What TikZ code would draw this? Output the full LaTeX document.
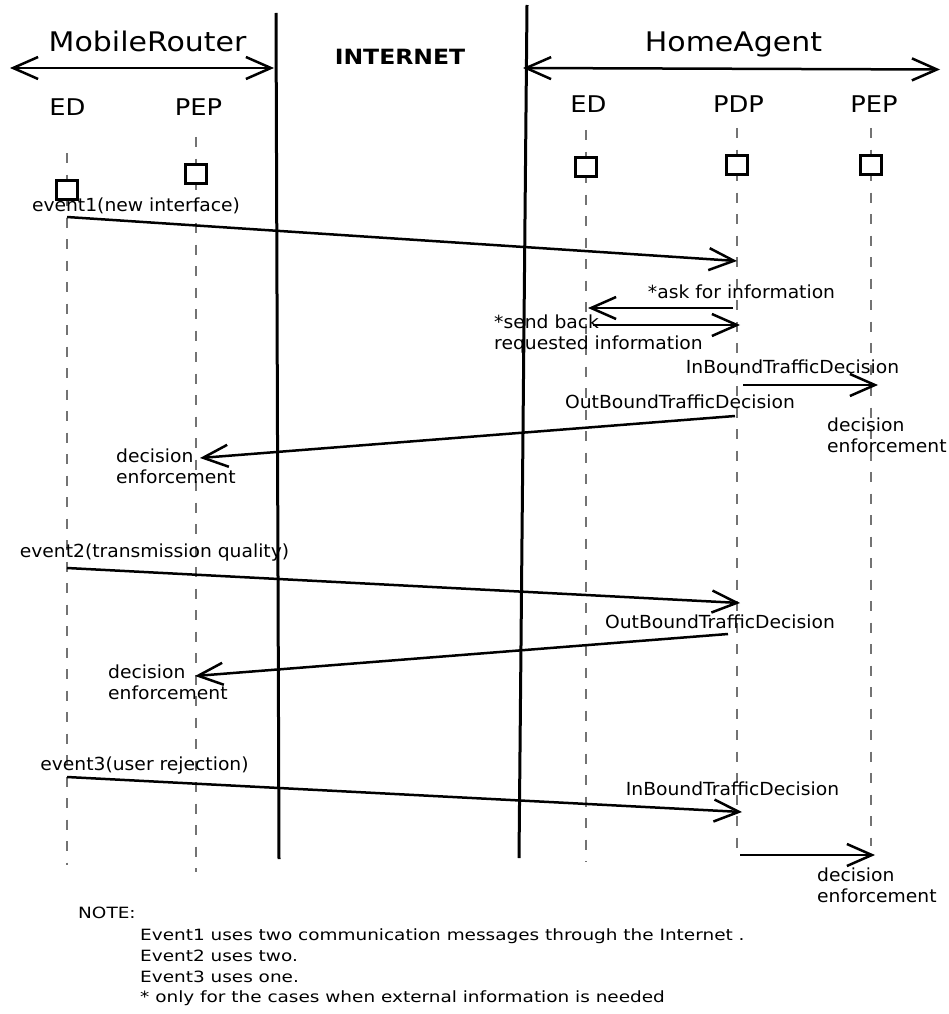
\documentclass[tikz,border=0pt]{standalone}
\usepackage{fontspec}
\setmainfont{DejaVu Sans}
\newfontfamily\titlefont[FakeStretch=1.11]{DejaVu Sans}
\newfontfamily\headfont[FakeStretch=1.12]{DejaVu Sans}
\newfontfamily\netfont[FakeStretch=1.12]{DejaVu Sans}
\newfontfamily\labelfont[FakeStretch=1.04]{DejaVu Sans}
\newfontfamily\notefont[FakeStretch=1.19]{DejaVu Sans}
\usetikzlibrary{arrows.meta}
\newcommand{\twolines}[2]{\begin{tabular}[t]{@{}l@{}}#1\\#2\end{tabular}}
\begin{document}
\begin{tikzpicture}[x=1pt,y=-1pt,
  barb/.tip={Straight Barb[length=25pt,width=22pt]},
  life/.style={draw=black!55, line width=2.6pt, dash pattern=on 10pt off 11.5pt},
  wall/.style={line width=3pt},
  msg/.style={line width=2.5pt, -barb},
  span/.style={line width=2.5pt, barb-barb},
  act/.style={draw, line width=2.5pt, fill=white, minimum width=21pt, minimum height=19pt, inner sep=0pt},
  title/.style={inner sep=0pt, anchor=base, font=\titlefont\fontsize{27}{31}\selectfont},
  head/.style={inner sep=0pt, anchor=base, font=\headfont\fontsize{23}{27}\selectfont},
  lbl/.style={inner sep=0pt, anchor=base, font=\labelfont\fontsize{18}{21.5}\selectfont},
  lblw/.style={lbl, anchor=base west},
  note/.style={inner sep=0pt, anchor=base west, font=\notefont\fontsize{15.5}{21}\selectfont}]
\useasboundingbox (0,0) rectangle (949,1014);

% domain titles and their extent arrows
\node[title] (mrtitle) at (147.5,52) {MobileRouter};
\node[title] (hatitle) at (733.5,52) {HomeAgent};
\node[inner sep=0pt, anchor=base, font=\netfont\bfseries\fontsize{21}{25}\selectfont] (net) at (400,65) {INTERNET};
\coordinate (mrL) at (10,68);
\coordinate (mrR) at (274,68);
\coordinate (haL) at (523,68);
\coordinate (haR) at (940,69.5);
\draw[span] (mrL) -- (mrR);
\draw[span] (haL) -- (haR);

% borders of the Internet
\coordinate (w1t) at (276,13);
\coordinate (w1b) at (279,859);
\coordinate (w2t) at (527,5);
\coordinate (w2b) at (519,858);
\draw[wall] (w1t) -- (w1b);
\draw[wall] (w2t) -- (w2b);

% entity names
\node[head] (hED1)  at (67.5,116) {ED};
\node[head] (hPEP1) at (198.5,116) {PEP};
\node[head] (hED2)  at (588.5,113) {ED};
\node[head] (hPDP)  at (738.5,113) {PDP};
\node[head] (hPEP2) at (874,113) {PEP};

% lifelines
\coordinate (l1t) at (67,153);  \coordinate (l1b) at (67,865);
\coordinate (l2t) at (196,137); \coordinate (l2b) at (196,872);
\coordinate (l3t) at (586,130); \coordinate (l3b) at (586,862);
\coordinate (l4t) at (737,128); \coordinate (l4b) at (737,858);
\coordinate (l5t) at (871,128); \coordinate (l5b) at (871,846);
\draw[life] (l1t) -- (l1b);
\draw[life] (l2t) -- (l2b);
\draw[life] (l3t) -- (l3b);
\draw[life] (l4t) -- (l4b);
\draw[life] (l5t) -- (l5b);

% activation boxes
\node[act] (bED1)  at (67,190) {};
\node[act] (bPEP1) at (196,174) {};
\node[act] (bED2)  at (586,167) {};
\node[act] (bPDP)  at (737,165) {};
\node[act] (bPEP2) at (871,165) {};

% event 1
\coordinate (m1a) at (67,217);  \coordinate (m1b) at (737,261);
\draw[msg] (m1a) -- (m1b);
\node[lbl] (t1) at (136,211) {event1(new interface)};

\coordinate (m2a) at (733,308); \coordinate (m2b) at (588,308);
\draw[msg] (m2a) -- (m2b);
\node[lbl] (t2) at (741.5,298) {*ask for information};

\coordinate (m3a) at (593,325); \coordinate (m3b) at (740,325);
\draw[msg] (m3a) -- (m3b);
\node[lblw] (t3) at (494,328) {\twolines{*send back}{requested information}};

\coordinate (m4a) at (743,385); \coordinate (m4b) at (878,385);
\draw[msg] (m4a) -- (m4b);
\node[lbl] (t4) at (792.5,373) {InBoundTrafficDecision};
\node[lblw] (d1) at (827,431) {\twolines{decision}{enforcement}};

\coordinate (m5a) at (735,416); \coordinate (m5b) at (200,458);
\draw[msg] (m5a) -- (m5b);
\node[lbl] (t5) at (680,408) {OutBoundTrafficDecision};
\node[lblw] (d2) at (116,462) {\twolines{decision}{enforcement}};

% event 2
\coordinate (m6a) at (67,568);  \coordinate (m6b) at (740,603);
\draw[msg] (m6a) -- (m6b);
\node[lbl] (t6) at (154.5,557) {event2(transmission quality)};

\coordinate (m7a) at (728,634); \coordinate (m7b) at (195,676);
\draw[msg] (m7a) -- (m7b);
\node[lbl] (t7) at (720,628) {OutBoundTrafficDecision};
\node[lblw] (d3) at (108,678) {\twolines{decision}{enforcement}};

% event 3
\coordinate (m8a) at (67,777);  \coordinate (m8b) at (742,812);
\draw[msg] (m8a) -- (m8b);
\node[lbl] (t8) at (144.5,770) {event3(user rejection)};

\coordinate (m9a) at (740,855); \coordinate (m9b) at (875,855);
\draw[msg] (m9a) -- (m9b);
\node[lbl] (t9) at (732.5,795) {InBoundTrafficDecision};
\node[lblw] (d4) at (817,881) {\twolines{decision}{enforcement}};

% note
\node[note] (n0) at (78,918) {NOTE:};
\node[note] (n1) at (140,940) {Event1 uses two communication messages through the Internet .};
\node[note] (n2) at (140,961) {Event2 uses two.};
\node[note] (n3) at (140,982) {Event3 uses one.};
\node[note] (n4) at (140,1002) {* only for the cases when external information is needed};
\end{tikzpicture}
\end{document}
